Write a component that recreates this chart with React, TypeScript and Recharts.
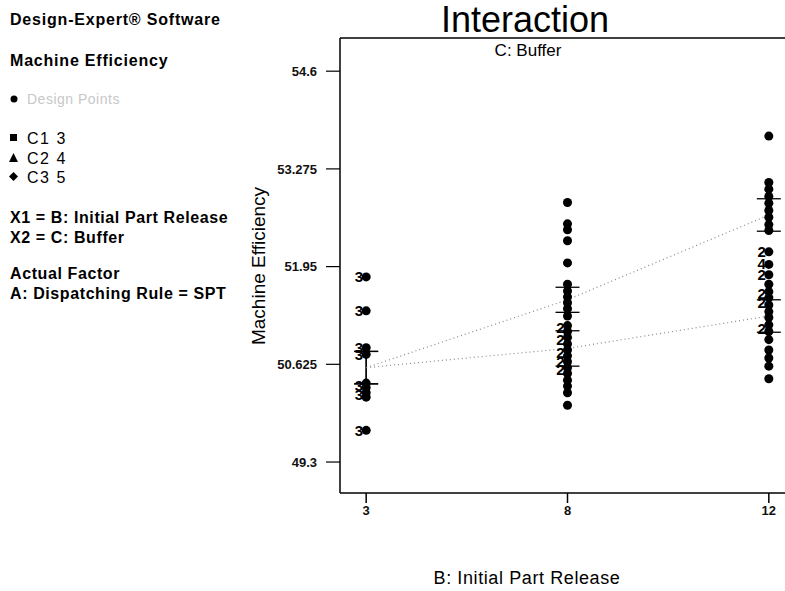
import React from 'react';
import { ComposedChart, Scatter, Line, XAxis, YAxis, ErrorBar, ReferenceLine } from 'recharts';

// factor levels of B: Initial Part Release (plotted at equal spacing)
const categories = ['3', '8', '12'];
const yTicks = [49.3, 50.625, 51.95, 53.275, 54.6];
const yDomain = [48.88, 55.05];

// design points per level
const pointsAt3 = [51.81, 51.35, 50.85, 50.76, 50.37, 50.31, 50.24, 50.18, 49.73];
const pointsAt8 = [
  52.82, 52.53, 52.45, 52.3, 52.0, 51.71, 51.62, 51.54, 51.46, 51.38, 51.28, 51.15,
  51.07, 50.99, 50.9, 50.82, 50.74, 50.66, 50.58, 50.5, 50.41, 50.33, 50.24, 50.07,
];
const pointsAt12 = [
  53.72, 53.09, 53.0, 52.9, 52.81, 52.71, 52.62, 52.52, 52.44, 52.15, 51.98, 51.84,
  51.71, 51.61, 51.53, 51.43, 51.34, 51.26, 51.16, 51.07, 50.96, 50.82, 50.71, 50.6, 50.43,
];

// replicate counts printed next to points
const countsAt3 = [51.81, 51.35, 50.85, 50.76, 50.33, 50.22, 49.73];
const countLabels3 = ['3', '3', '3', '3', '3', '3', '3'];
const countsAt8 = [51.12, 50.96, 50.79, 50.66, 50.55];
const countLabels8 = ['2', '2', '2', '2', '2'];
const countsAt12 = [52.15, 51.99, 51.84, 51.58, 51.46, 51.11];
const countLabels12 = ['2', '4', '2', '2', '2', '2'];

// predicted means and LSD half-widths for C1 (buffer 3) and C3 (buffer 5)
const meanC1 = [50.58, 51.5, 52.65];
const lsdC1 = [0.22, 0.17, 0.22];
const meanC3 = [50.58, 50.84, 51.28];
const lsdC3 = [0.22, 0.24, 0.22];

const FONT = "'Liberation Sans', Arial, sans-serif";

const toPoints = (vals: number[], idx: number) => vals.map((y) => ({ x: idx, y }));
const designPoints = [
  ...toPoints(pointsAt3, 0),
  ...toPoints(pointsAt8, 1),
  ...toPoints(pointsAt12, 2),
];
const toLabels = (vals: number[], texts: string[], idx: number) =>
  vals.map((y, i) => ({ x: idx, y, text: texts[i] }));
const countPoints = [
  ...toLabels(countsAt3, countLabels3, 0),
  ...toLabels(countsAt8, countLabels8, 1),
  ...toLabels(countsAt12, countLabels12, 2),
];
const lineC1 = meanC1.map((y, i) => ({ x: i, y, err: lsdC1[i] }));
const lineC3 = meanC3.map((y, i) => ({ x: i, y, err: lsdC3[i] }));

const CountLabel = (props: any) => {
  const { cx, cy, payload } = props;
  return (
    <text
      x={cx - 3}
      y={cy}
      dy="0.36em"
      textAnchor="end"
      fontFamily={FONT}
      fontWeight="bold"
      fontSize={15}
      fill="#000"
    >
      {payload.text}
    </text>
  );
};

const textStyle = { fontFamily: FONT, fill: '#000' };

export default function App() {
  return (
    <div
      style={{
        position: 'absolute',
        left: 0,
        top: 0,
        width: 785,
        height: 591,
        overflow: 'hidden',
        background: '#fff',
      }}
    >
      <ComposedChart
        width={800}
        height={591}
        margin={{ top: 38, right: 5, bottom: 68, left: 0 }}
      >
        <XAxis
          type="number"
          dataKey="x"
          domain={[-0.13, 2.13]}
          ticks={[0, 1, 2]}
          tickFormatter={(v: number) => categories[v]}
          height={30}
          tickSize={10}
          tickMargin={3}
          axisLine={{ stroke: '#000', strokeWidth: 1.5 }}
          tickLine={{ stroke: '#000', strokeWidth: 1.5 }}
          tick={{ fill: '#111', fontSize: 13, fontWeight: 'bold', fontFamily: FONT }}
        />
        <YAxis
          type="number"
          dataKey="y"
          domain={yDomain}
          ticks={yTicks}
          width={340}
          tickSize={14}
          tickMargin={9}
          tickFormatter={(v: number) => String(v)}
          axisLine={{ stroke: '#000', strokeWidth: 1.5 }}
          tickLine={{ stroke: '#000', strokeWidth: 1.2 }}
          tick={{ fill: '#111', fontSize: 13, fontWeight: 'bold', fontFamily: FONT }}
        />
        <ReferenceLine y={yDomain[1]} stroke="#000" strokeWidth={1.5} />
        <Line
          data={lineC1}
          dataKey="y"
          stroke="#888"
          strokeWidth={1.2}
          strokeDasharray="1 3"
          dot={false}
          isAnimationActive={false}
        >
          <ErrorBar dataKey="err" direction="y" width={12} stroke="#000" strokeWidth={1.3} />
        </Line>
        <Line
          data={lineC3}
          dataKey="y"
          stroke="#888"
          strokeWidth={1.2}
          strokeDasharray="1 3"
          dot={false}
          isAnimationActive={false}
        >
          <ErrorBar dataKey="err" direction="y" width={12} stroke="#000" strokeWidth={1.3} />
        </Line>
        <Scatter data={designPoints} fill="#000" shape="circle" isAnimationActive={false} />
        <Scatter data={countPoints} shape={CountLabel} isAnimationActive={false} />
      </ComposedChart>

      <svg
        width={785}
        height={591}
        style={{ position: 'absolute', left: 0, top: 0, pointerEvents: 'none' }}
      >
        <g style={textStyle} fontFamily={FONT}>
          <text x={10} y={25} fontSize={16} fontWeight="bold" letterSpacing={0.8}>Design-Expert® Software</text>
          <text x={10} y={66} fontSize={16} fontWeight="bold" letterSpacing={0.8}>Machine Efficiency</text>
          <circle cx={14} cy={99} r={3.5} fill="#000" />
          <text x={27} y={104} fontSize={14} fill="#c8c8c8" letterSpacing={0.5}>Design Points</text>
          <rect x={10} y={134} width={7} height={7} fill="#000" />
          <text x={27} y={144} fontSize={16} letterSpacing={1.5}>C1 3</text>
          <polygon points="13.5,153 9,162 18,162" fill="#000" />
          <text x={27} y={164} fontSize={16} letterSpacing={1.5}>C2 4</text>
          <polygon points="13.5,172 18,176.5 13.5,181 9,176.5" fill="#000" />
          <text x={27} y={183} fontSize={16} letterSpacing={1.5}>C3 5</text>
          <text x={10} y={223} fontSize={16} fontWeight="bold" letterSpacing={0.6}>X1 = B: Initial Part Release</text>
          <text x={10} y={243} fontSize={16} fontWeight="bold" letterSpacing={0.6}>X2 = C: Buffer</text>
          <text x={10} y={279} fontSize={16} fontWeight="bold" letterSpacing={0.6}>Actual Factor</text>
          <text x={10} y={299} fontSize={16} fontWeight="bold" letterSpacing={0.6}>A: Dispatching Rule = SPT</text>

          <text x={525} y={32} fontSize={36} textAnchor="middle">Interaction</text>
          <text x={528} y={56} fontSize={17} textAnchor="middle">C: Buffer</text>
          <text
            x={265}
            y={266}
            fontSize={19}
            textAnchor="middle"
            transform="rotate(-90 265 266)"
          >
            Machine Efficiency
          </text>
          <text x={527} y={584} fontSize={18} textAnchor="middle" letterSpacing={0.6}>B: Initial Part Release</text>
        </g>
      </svg>
    </div>
  );
}
